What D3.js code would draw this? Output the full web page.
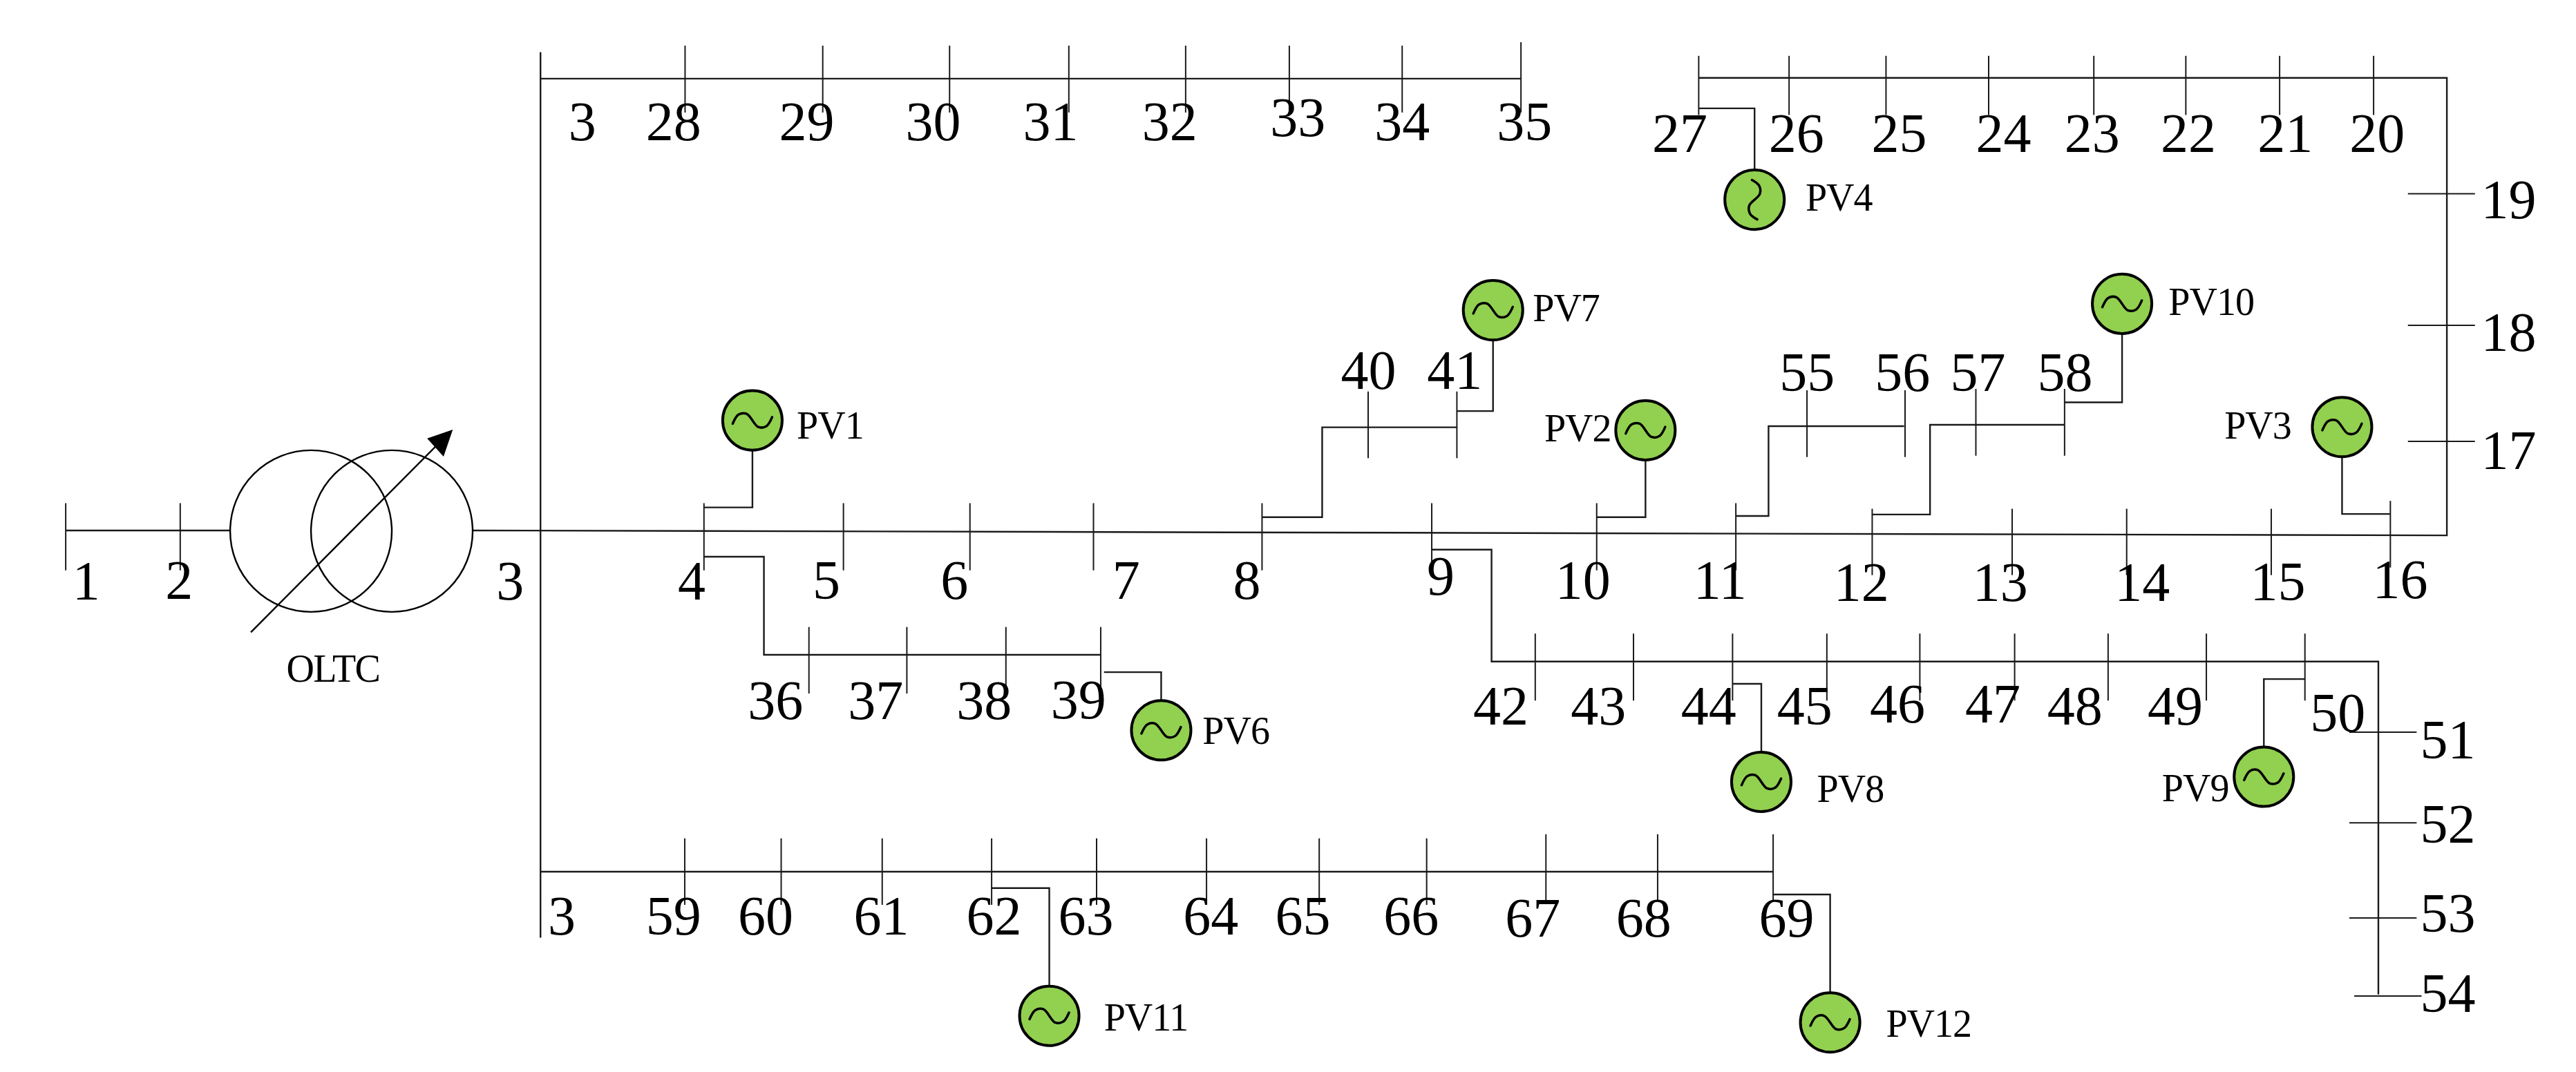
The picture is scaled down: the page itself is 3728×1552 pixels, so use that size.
<!DOCTYPE html>
<html>
<head>
<meta charset="utf-8">
<style>
  html, body { margin: 0; background: #fff; }
  svg { display: block; }
  text { font-family: "Liberation Serif", serif; fill: #000; }
</style>
</head>
<body>
<div id="grid"></div>
<script src="https://cdnjs.cloudflare.com/ajax/libs/d3/7.8.5/d3.min.js"></script>
<script>
// Schematic coordinates (1568 units across)
const mainTicks = [40, 109.7, 428.5, 513.4, 590.4, 665.6, 768.2, 871.5, 971.9, 1056.6];
const mainTicksEast = [1139.6, 1224.8, 1294.5, 1382.5];
const topTicks = [417, 500.8, 578, 650.6, 721.7, 784.8, 853.5];
const rightTopTicks = [1034, 1089, 1148, 1210.5, 1274.5, 1330.5, 1387.6, 1444.8];
const bottomTicks = [416.8, 475.5, 537, 603.6, 667.5, 734.4, 803, 868.4];
const bottomTicksEast = [941, 1009, 1079.3];
const branch4Ticks = [492.4, 552, 612.3, 670];
const branch8Ticks = [832.8, 886.8];
const branch11Ticks = [1099.9, 1159.6];
const branch12Ticks = [1202.7, 1256.7];
const branch9Ticks = [934.5, 994.3, 1054.6, 1112, 1168.6, 1226.3, 1283.2, 1343, 1403];
const riserTicks = [118, 198.1, 268.8];
const tailTicks = [445.8, 501, 559];

const busNames = ["1", "2", "3", "4", "5", "6", "7", "8", "9", "10", "11", "12", "13", "14", "15", "16",
  "3", "28", "29", "30", "31", "32", "33", "34", "35",
  "27", "26", "25", "24", "23", "22", "21", "20", "19", "18", "17",
  "40", "41", "55", "56", "57", "58",
  "36", "37", "38", "39",
  "42", "43", "44", "45", "46", "47", "48", "49", "50", "51", "52", "53", "54",
  "3", "59", "60", "61", "62", "63", "64", "65", "66", "67", "68", "69"];
const busNameX = [52.5, 109, 310.5, 421, 503, 581, 685.5, 759, 877, 963.5, 1047, 1133, 1217.5, 1304, 1386.5, 1461,
  354.5, 410, 491, 568, 639.5, 712, 790, 853.5, 928,
  1022.5, 1093.5, 1156, 1219.5, 1273.5, 1332, 1391, 1447, 1527, 1527, 1527,
  833, 885.5, 1100, 1158, 1204, 1257,
  472, 533, 599, 656.5,
  913.5, 973, 1040, 1098.5, 1155, 1213, 1263, 1324, 1423, 1490, 1490, 1490, 1490,
  342, 410, 466, 536.5, 605, 661, 737, 793, 859, 933, 1000.5, 1087.5];
const busNameY = [353.4, 353, 353.4, 353.4, 353.3, 353.3, 353.3, 353.3, 350.5, 353.3, 353.3, 354.4, 354.4, 354.4, 354, 352.6,
  73.9, 73.9, 73.9, 73.9, 73.9, 73.9, 71.2, 73.9, 73.9,
  81, 81, 81, 81, 81, 81, 81, 81, 121.3, 202.3, 274,
  225.2, 225.2, 226.4, 226.4, 226.4, 226.4,
  426.3, 426.3, 426.3, 426,
  429.6, 429.6, 429.6, 429.6, 428.4, 428.4, 429.6, 429.6, 434, 450.3, 501.6, 555.9, 604.5,
  557.4, 557.4, 557.4, 557.4, 557.4, 557.4, 557.4, 557.4, 557.4, 558.9, 558.9, 558.9];

const pvNames = ["PV1", "PV2", "PV3", "PV4", "PV6", "PV7", "PV8", "PV9", "PV10", "PV11", "PV12"];
const pvX = [458, 1001.6, 1425.6, 1068, 706.8, 908.8, 1072.1, 1378, 1291.7, 638.7, 1114];
const pvY = [256, 262, 260, 121.6, 444.7, 188.9, 476.1, 473, 185, 618.6, 622.6];
const pvBusX = [428.5, 971.9, 1455, 1034, 672, 886.8, 1054.6, 1403, 1256.7, 603.6, 1079.3];
const pvBusY = [309, 314.9, 313, 66, 409.3, 250.3, 416.4, 413.5, 245, 540.8, 544.7];
const pvNameX = [485, 940, 1354, 1099, 732, 933, 1106, 1316, 1320, 672, 1148];
const pvNameY = [259, 260.8, 259, 120.3, 444.8, 187.6, 480.3, 479.7, 183.7, 619.4, 623.5];

const wires = [
  [[40, 323], [140, 323]],
  [[287.5, 323], [1489.4, 326], [1489.4, 47.4], [1034, 47.4]],
  [[329, 31.8], [329, 571]],
  [[329, 47.9], [925.8, 47.9]],
  [[329, 530.8], [1079.3, 530.8]],
  [[428.5, 339], [465, 339], [465, 398.7], [670, 398.7]],
  [[768.2, 314.9], [804.8, 314.9], [804.8, 260.2], [886.8, 260.2]],
  [[1056.6, 314.2], [1076.5, 314.2], [1076.5, 259.5], [1159, 259.5]],
  [[1139.6, 313.3], [1174.8, 313.3], [1174.8, 258.7], [1256.7, 258.7]],
  [[871.5, 334.7], [907.9, 334.7], [907.9, 402.8], [1447.7, 402.8], [1447.7, 605.6]]
];
const wave = [[-12, 2], [-8.5, -3.5], [-3.5, -4], [3.5, 4], [8.5, 3.5], [12, -2]];

const width = 3728;
const height = 1552;
const unit = width / 1568;

const x = d3.scaleLinear().domain([0, 1568]).range([0, width]);
const y = d3.scaleLinear().domain([0, 1568 * height / width]).range([0, height]);

const svg = d3.select("#grid")
  .append("svg")
  .attr("width", width)
  .attr("height", height)
  .attr("viewBox", `0, 0, ${width}, ${height}`);

const wireLine = d3.line().x(d => x(d[0])).y(d => y(d[1]));

// Feeders and branches
svg.append("g")
  .selectAll("path")
  .data(wires)
  .join("path")
  .attr("d", wireLine)
  .attr("fill", "none")
  .attr("stroke", "#1a1a1a")
  .attr("stroke-width", 2.4);

// Bus bars: vertical ones across horizontal feeders, then horizontal ones
const verticalBars = [
  { xs: mainTicks, y0: 306.4, y1: 347.3 },
  { xs: mainTicksEast, y0: 309.8, y1: 350.2 },
  { xs: [1455], y0: 305, y1: 345.6 },
  { xs: topTicks, y0: 27.8, y1: 68.5 },
  { xs: [925.8], y0: 25.7, y1: 68.5 },
  { xs: rightTopTicks, y0: 34, y1: 70 },
  { xs: bottomTicks, y0: 510.5, y1: 551 },
  { xs: bottomTicksEast, y0: 508, y1: 549 },
  { xs: branch4Ticks, y0: 381.8, y1: 422.3 },
  { xs: branch8Ticks, y0: 238.4, y1: 279 },
  { xs: branch11Ticks, y0: 237.6, y1: 278.3 },
  { xs: branch12Ticks, y0: 236.8, y1: 277.5 },
  { xs: branch9Ticks, y0: 385.8, y1: 426.6 }
];
const horizontalBars = [
  { ys: riserTicks, x0: 1465.7, x1: 1506.5 },
  { ys: tailTicks, x0: 1430, x1: 1471 },
  { ys: [606.5], x0: 1433, x1: 1474 }
];

const bars = svg.append("g").attr("stroke", "#1a1a1a").attr("stroke-width", 2);
verticalBars.forEach(b => {
  bars.append("g").selectAll("line").data(b.xs).join("line")
    .attr("x1", d => x(d)).attr("x2", d => x(d))
    .attr("y1", y(b.y0)).attr("y2", y(b.y1));
});
horizontalBars.forEach(b => {
  bars.append("g").selectAll("line").data(b.ys).join("line")
    .attr("y1", d => y(d)).attr("y2", d => y(d))
    .attr("x1", x(b.x0)).attr("x2", x(b.x1));
});

// OLTC transformer
svg.append("g")
  .selectAll("circle")
  .data([189.3, 238.5])
  .join("circle")
  .attr("cx", d => x(d))
  .attr("cy", y(323.4))
  .attr("r", 49.2 * unit)
  .attr("fill", "none")
  .attr("stroke", "#000")
  .attr("stroke-width", 2.4);

svg.append("path")
  .attr("d", wireLine([[152.7, 385], [271, 266]]))
  .attr("stroke", "#000")
  .attr("stroke-width", 2.4);
svg.append("path")
  .attr("d", wireLine([[275.6, 261.6], [260, 267], [270, 278]]) + "Z")
  .attr("fill", "#000");
svg.append("text")
  .text("OLTC")
  .attr("text-anchor", "middle")
  .attr("x", x(202.7))
  .attr("y", y(415.2))
  .attr("font-size", 56)
  .attr("letter-spacing", -1.5);

// PV units
const pvTable = pvNames.map((name, i) => ({
  name, cx: pvX[i], cy: pvY[i], busX: pvBusX[i], busY: pvBusY[i], nameX: pvNameX[i], nameY: pvNameY[i]
}));
const waveLine = d3.line().curve(d3.curveCatmullRom.alpha(0.5));

const pv = svg.append("g")
  .selectAll("g")
  .data(pvTable)
  .join("g");

pv.append("path")
  .attr("d", d => wireLine([[d.busX, d.busY], [d.cx, d.busY], [d.cx, d.cy]]))
  .attr("fill", "none")
  .attr("stroke", "#1a1a1a")
  .attr("stroke-width", 2.4);
pv.append("circle")
  .attr("cx", d => x(d.cx))
  .attr("cy", d => y(d.cy))
  .attr("r", 18.1 * unit)
  .attr("fill", "#92D050")
  .attr("stroke", "#000")
  .attr("stroke-width", 4);
pv.append("path")
  .attr("d", d => {
    // PV4 has its wave standing upright
    const pts = d.name === "PV4" ? wave.map(p => [-p[1] * 0.8, p[0]]) : wave;
    return waveLine(pts.map(p => [x(d.cx + p[0]), y(d.cy + p[1])]));
  })
  .attr("fill", "none")
  .attr("stroke", "#000")
  .attr("stroke-width", 3.5)
  .attr("stroke-linecap", "round");
pv.append("text")
  .text(d => d.name)
  .attr("x", d => x(d.nameX))
  .attr("y", d => y(d.nameY + 8))
  .attr("font-size", 56)
  .attr("letter-spacing", -1);

// Bus numbers
svg.append("g")
  .selectAll("text")
  .data(busNames)
  .join("text")
  .text(d => d)
  .attr("text-anchor", "middle")
  .attr("x", (d, i) => x(busNameX[i]))
  .attr("y", (d, i) => y(busNameY[i] + 11.5))
  .attr("font-size", 80);
</script>
</body>
</html>
